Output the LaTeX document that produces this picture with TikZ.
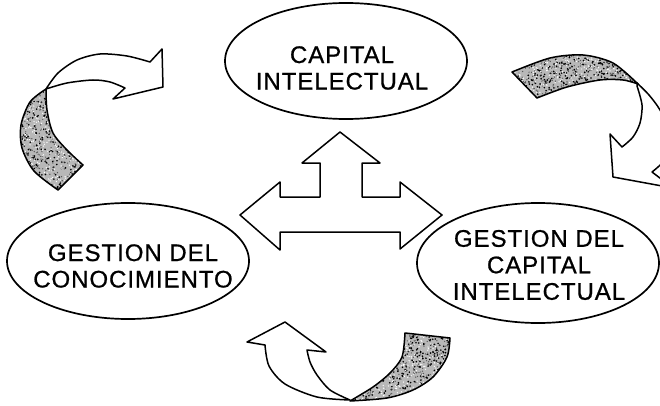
\documentclass[tikz,border=0pt]{standalone}
\usepackage{fontspec}
\setmainfont{Liberation Sans}
\newfontfamily\bubblefont[LetterSpace=4,FakeBold=0.8]{Liberation Sans}
\usetikzlibrary{shapes.geometric}

% outlines of the ribbon arrows (pixel-like units, y pointing down)
\newcommand\ribbonAdark{(58,190) -- (83,165) -- plot[smooth] coordinates {(83,165) (67,150) (53,133) (47,110) (46,89)} -- plot[smooth] coordinates {(46,89) (30,102) (21,125) (22,148) (34,171) (58,190)} -- cycle}
\newcommand\ribbonAlight{(46,89) -- plot[smooth] coordinates {(46,89) (58,73) (77,60) (100,54) (127,56) (150,62)} -- (162,49) -- (163,87) -- (113,99) -- (125,88) -- plot[smooth] coordinates {(125,88) (110,82) (93,80) (67,83) (46,89)} -- cycle}
\newcommand\ribbonBdark{(512,72) -- (537,98) -- plot[smooth] coordinates {(537,98) (567,87) (600,80) (623,80) (638,84)} -- plot[smooth] coordinates {(638,84) (613,63) (583,55) (550,58) (512,72)} -- cycle}
\newcommand\ribbonBlight{(637,83) -- plot[smooth] coordinates {(637,83) (649,95) (660,110) (670,132) (668,156) (652,172)} -- (673,188) -- (613,177) -- (610,134) -- (622,147) -- plot[smooth] coordinates {(622,147) (633,137) (640,123) (642,105) (637,86)} -- cycle}
\newcommand\ribbonCdark{(405,333) -- (450,338) -- plot[smooth] coordinates {(450,338) (447,357) (433,377) (413,390) (387,398) (350,401)} -- plot[smooth] coordinates {(350,401) (373,387) (390,373) (402,357) (405,333)} -- cycle}
\newcommand\ribbonClight{(350,400) -- plot[smooth] coordinates {(350,400) (317,397) (285,384) (269,366) (265,345)} -- (247,342) -- (285,322) -- (326,352) -- (307,350) -- plot[smooth] coordinates {(307,350) (310,362) (317,375) (330,390) (350,400)} -- cycle}

% speckled texture inside a clipped region: #1 path, #2 x0, #3 width, #4 y0, #5 height, #6 count
\newcommand\speckle[6]{%
  \fill[black!28] #1;
  \begin{scope}
    \clip #1;
    \foreach \k in {1,...,#6}{%
      \fill[black] ({#2+#3*rnd},{#4+#5*rnd}) circle (0.9pt);
      \fill[black!65] ({#2+#3*rnd},{#4+#5*rnd}) circle (0.7pt);
      \fill[white] ({#2+#3*rnd},{#4+#5*rnd}) circle (0.7pt);
    }
  \end{scope}
  \draw[outline] #1;}

\begin{document}
\begin{tikzpicture}[x=1pt,y=-1pt,
  outline/.style={draw=black, line width=1.5pt, line join=round},
  bubble/.style={ellipse, draw=black, line width=1.7pt, minimum width=242pt, minimum height=116pt, inner sep=0pt},
  bubbletext/.style={font=\bubblefont\fontsize{24}{26.5}\selectfont, align=center, inner sep=0pt}]
  \useasboundingbox (0,0) rectangle (660,406);
  \clip (0,0) rectangle (660,406);
  \pgfmathsetseed{11}

  % the three concepts
  \node[bubble] (ci) at (346,61) {};
  \node[bubbletext] (ci-t) at (342,68) {CAPITAL\\INTELECTUAL};
  \node[bubble] (gc) at (128,261) {};
  \node[bubbletext] (gc-t) at (133,266) {GESTION DEL\\CONOCIMIENTO};
  \node[bubble, minimum height=120pt] (gci) at (538,263) {};
  \node[bubbletext] (gci-t) at (539,265) {GESTION DEL\\CAPITAL\\INTELECTUAL};

  % central three-way arrow
  \draw[outline, fill=white] (240,215) -- (280,182) -- (280,197) -- (320,197) -- (320,163) -- (302,163) -- (340,132)
    -- (380,163) -- (362,163) -- (362,197) -- (400,197) -- (400,182) -- (442,215) -- (400,249) -- (400,232)
    -- (280,232) -- (280,250) -- cycle;

  % ribbon arrows turning around the cycle
  \speckle{\ribbonAdark}{15}{75}{85}{110}{420}
  \draw[outline, fill=white] \ribbonAlight;
  \speckle{\ribbonBdark}{508}{134}{50}{52}{420}
  \draw[outline, fill=white] \ribbonBlight;
  \speckle{\ribbonCdark}{345}{110}{328}{76}{420}
  \draw[outline, fill=white] \ribbonClight;
\end{tikzpicture}
\end{document}
